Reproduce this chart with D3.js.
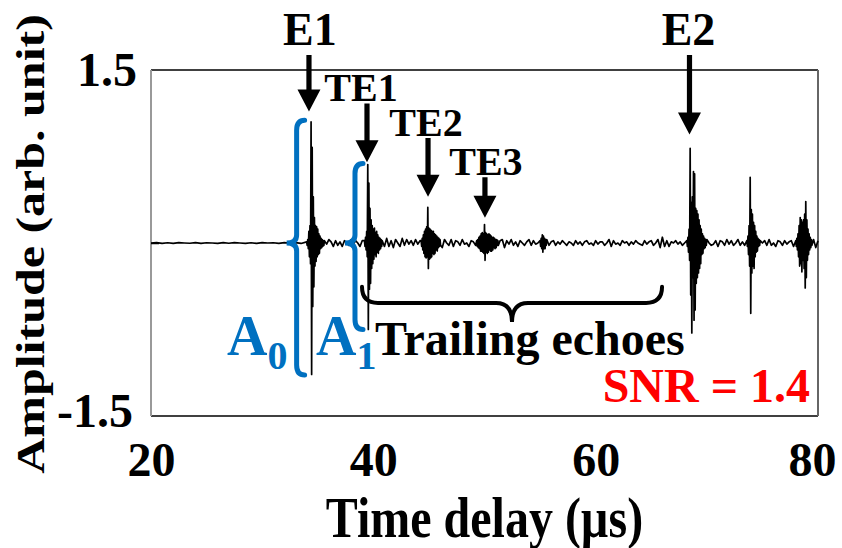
<!DOCTYPE html>
<html>
<head>
<meta charset="utf-8">
<script src="https://cdn.jsdelivr.net/npm/d3@7"></script>
<style>
  body { margin: 0; background: #fff; }
  svg text { font-family: "Liberation Serif", "Times New Roman", serif; font-weight: bold; }
</style>
</head>
<body>
<svg id="chart" width="842" height="548"></svg>
<script>
// axis ticks
const xTicks = [20, 40, 60, 80];
const yTicks = [1.5, -1.5];

// flat trace before the first echo (µs, step 0.5)
const quietStart = 20, quietStep = 0.5;
const quietVals = [0, 0.004, -0.003, 0.002, -0.004, 0.003, 0, -0.002, 0.004, -0.003,
  0.002, 0, -0.004, 0.003, -0.002, 0.004, 0, -0.003, 0.002, -0.004,
  0.003, 0, 0.002, -0.003, 0.004, -0.002, 0.003, -0.004, 0];

// noise floor after the first echo (µs, step 0.2)
const noiseStart = 35.6, noiseStep = 0.2;
const noiseVals = [
  0.02, -0.01, 0.03, 0.01, -0.03, 0.02, -0.02, 0.01, -0.03, 0.02,
  0.00, -0.02, 0.03, -0.01, 0.02, 0.00, -0.03, 0.02, -0.01, 0.01,
  0.03, -0.05, 0.04, -0.02, 0.05, -0.04, 0.02, -0.03, 0.04, -0.03,
  0.02, -0.04, 0.03, 0.00, -0.03, 0.04, -0.02, 0.03, -0.01, 0.02,
  -0.02, 0.03, -0.01, 0.02, -0.03, 0.01, 0.02, -0.02, 0.03, -0.02,
  0.04, -0.03, 0.02, -0.04, 0.03, 0.00, -0.02, 0.03, -0.03, 0.02,
  0.01, -0.02, 0.03, -0.01, 0.00, -0.03, 0.02, 0.01, -0.02, 0.02,
  -0.01, 0.03, -0.02, 0.02, -0.03, 0.04, -0.02, 0.03, -0.04, 0.02,
  0.03, -0.04, 0.02, -0.01, 0.03, -0.02, 0.01, -0.03, 0.02, 0.00,
  -0.02, 0.01, 0.03, -0.02, 0.02, -0.01, 0.00, -0.03, 0.02, -0.01,
  0.03, -0.02, 0.01, 0.02, -0.02, 0.01, -0.01, 0.02, 0.00, -0.02,
  0.01, 0.00, -0.02, 0.02, -0.01, 0.01, -0.02, 0.01, 0.02, -0.01,
  0.00, -0.02, 0.02, -0.01, 0.01, 0.01, -0.02, 0.00, 0.03, -0.03,
  0.02, -0.01, 0.00, -0.02, 0.02, 0.00, 0.01, -0.02, 0.01, -0.01,
  0.02, 0.00, -0.01, -0.02, 0.02, -0.01, 0.01, 0.02, -0.02, 0.00,
  0.03, -0.04, 0.05, -0.03, 0.02, -0.03, 0.01, 0.00, 0.02, -0.01,
  0.01, -0.02, 0.00, -0.01, 0.02, -0.02, 0.01, -0.02, 0.02, -0.01,
  0.02, -0.02, 0.03, 0.00, -0.02, -0.01, 0.02, -0.03, 0.02, 0.01,
  -0.02, 0.03, -0.01, 0.02, -0.02, 0.00, 0.03, -0.02, 0.01, -0.02,
  0.02, -0.01, 0.03, -0.02, 0.02, -0.03, 0.02, 0.00, 0.02, -0.02,
  0.03, -0.02, 0.00, -0.03, 0.02, 0.01, -0.02, 0.02, -0.01, 0.01,
  0.02, -0.03, 0.02, -0.01, 0.03, -0.02, 0.02, -0.03, 0.02, -0.01,
  0.03, -0.04, 0.02];

// echo bursts (µs start, step 0.05)
const burstStep = 0.05;
const e1Start = 34.0;
const e1Vals = [0.01, -0.02, 0.03, -0.05, 0.1, -0.12, 0.15, -0.18, 1.05, -1.14,
  0.83, -0.55, 0.4, -0.38, 0.22, -0.2, 0.15, -0.16, 0.14, -0.12,
  0.12, -0.1, 0.08, -0.09, 0.06, -0.05, 0.04, -0.04, 0.03, -0.03, 0.02, -0.02];
const te1Start = 39.2;
const te1Vals = [0.02, -0.03, 0.05, -0.06, 0.1, -0.12, 0.68, -0.75, 0.52, -0.4,
  0.3, -0.35, 0.2, -0.22, 0.15, -0.18, 0.12, -0.14, 0.13, -0.1,
  0.09, -0.12, 0.1, -0.08, 0.07, -0.09, 0.05, -0.06, 0.04, -0.05, 0.03, -0.03];
const te2Start = 44.3;
const te2Vals = [0.02, -0.03, 0.04, -0.06, 0.07, -0.09, 0.1, -0.12, 0.12, -0.13,
  0.14, -0.12, 0.31, -0.22, 0.13, -0.14, 0.12, -0.13, 0.11, -0.12,
  0.1, -0.09, 0.1, -0.1, 0.08, -0.09, 0.07, -0.06, 0.06, -0.07,
  0.05, -0.04, 0.04, -0.03, 0.03, -0.02];
const te3Start = 49.3;
const te3Vals = [0.02, -0.03, 0.03, -0.04, 0.05, -0.05, 0.06, -0.07, 0.08, -0.07,
  0.09, -0.08, 0.08, -0.09, 0.16, -0.15, 0.09, -0.08, 0.08, -0.09,
  0.07, -0.08, 0.08, -0.06, 0.07, -0.07, 0.06, -0.07, 0.05, -0.06,
  0.05, -0.04, 0.04, -0.05, 0.03, -0.04, 0.03, -0.02, 0.02, -0.02];
const te4Start = 55.0;
const te4Vals = [0.02, -0.03, 0.04, -0.05, 0.07, -0.08, 0.06, -0.05, 0.04, -0.05, 0.03, -0.02];
const e2Start = 68.2;
const e2Vals = [0.02, -0.03, 0.05, -0.08, 0.12, -0.15, 0.82, -0.45, 0.35, -0.78,
  0.4, -0.3, 0.62, -0.67, 0.6, -0.58, 0.3, -0.35, 0.28, -0.3,
  0.25, -0.26, 0.2, -0.22, 0.15, -0.18, 0.12, -0.1, 0.08, -0.09,
  0.06, -0.05, 0.04, -0.04, 0.03, -0.02];
const e3Start = 73.6;
const e3Vals = [0.02, -0.03, 0.06, -0.1, 0.15, -0.2, 0.57, -0.61, 0.29, -0.26,
  0.25, -0.2, 0.18, -0.22, 0.15, -0.12, 0.1, -0.08, 0.06, -0.07,
  0.04, -0.03, 0.03, -0.02];
const e4Start = 78.0;
const e4Vals = [0.02, -0.03, 0.04, -0.06, 0.08, -0.12, 0.15, -0.2, 0.22, -0.18,
  0.2, -0.25, 0.18, -0.15, 0.2, -0.22, 0.25, -0.39, 0.36, -0.3,
  0.2, -0.15, 0.12, -0.1, 0.08, -0.06, 0.05, -0.04, 0.03, -0.02];

// labelled echoes: arrow time, arrow tip / tail amplitude
const echoNames = ["E1", "TE1", "TE2", "TE3", "E2"];
const echoArrowT = [34.21, 39.43, 44.92, 50.04, 68.44];
const echoTipAmp = [1.14, 0.70, 0.40, 0.22, 0.94];
const echoTailAmp = [1.63, 1.21, 0.91, 0.57, 1.63];

const blue = "#0070c0";
const width = 842, height = 548;
const margin = {top: 70, right: 24, bottom: 132, left: 151};

const svg = d3.select("#chart");

const x = d3.scaleLinear().domain([20, 80]).range([margin.left, width - margin.right]);
const y = d3.scaleLinear().domain([-1.5, 1.5]).range([height - margin.bottom, margin.top]);

// build the trace
const bursts = [
  {start: e1Start, vals: e1Vals}, {start: te1Start, vals: te1Vals},
  {start: te2Start, vals: te2Vals}, {start: te3Start, vals: te3Vals},
  {start: te4Start, vals: te4Vals}, {start: e2Start, vals: e2Vals},
  {start: e3Start, vals: e3Vals}, {start: e4Start, vals: e4Vals}
];
const inBurst = t => bursts.some(b => t >= b.start - 1e-6 && t <= b.start + (b.vals.length - 1) * burstStep + 1e-6);
let trace = [];
quietVals.forEach((v, i) => trace.push({t: quietStart + i * quietStep, v}));
noiseVals.forEach((v, i) => trace.push({t: noiseStart + i * noiseStep, v}));
trace = trace.filter(p => !inBurst(p.t));
bursts.forEach(b => b.vals.forEach((v, i) => trace.push({t: b.start + i * burstStep, v})));
trace.sort((a, b) => a.t - b.t);

// frame
const x0 = x.range()[0], x1 = x.range()[1], yT = y.range()[1], yB = y.range()[0];
svg.append("line").attr("x1", x0).attr("x2", x1).attr("y1", yT).attr("y2", yT)
  .attr("stroke", "#000").attr("stroke-width", 1.5);
svg.append("line").attr("x1", x0).attr("x2", x1).attr("y1", yB).attr("y2", yB)
  .attr("stroke", "#000").attr("stroke-width", 1.5);
svg.append("line").attr("x1", x0).attr("x2", x0).attr("y1", yT).attr("y2", yB)
  .attr("stroke", "#999").attr("stroke-width", 2);
svg.append("line").attr("x1", x1).attr("x2", x1).attr("y1", yT).attr("y2", yB)
  .attr("stroke", "#666").attr("stroke-width", 2);

// axes
const xAxis = svg.append("g")
  .attr("transform", `translate(0,${yB})`)
  .call(d3.axisBottom(x).tickValues(xTicks).tickSize(0).tickFormat(d3.format("d")));
xAxis.select(".domain").remove();
xAxis.selectAll("text")
  .attr("y", 60).attr("dy", 0)
  .attr("font-size", 48).attr("fill", "#000")
  .attr("dx", d => d === 80 ? -6 : 0);

const yAxis = svg.append("g")
  .attr("transform", `translate(${x0},0)`)
  .call(d3.axisLeft(y).tickValues(yTicks).tickSize(0).tickPadding(14).tickFormat(d => d.toFixed(1)));
yAxis.select(".domain").remove();
yAxis.selectAll("text")
  .attr("font-size", 48).attr("fill", "#000")
  .attr("dy", d => d < 0 ? "0.22em" : "0.33em")
  .attr("dx", d => d < 0 ? -4 : 0);

// small zero tick on the left edge
const zeroAxis = svg.append("g")
  .attr("transform", `translate(${x0},0)`)
  .call(d3.axisRight(y).tickValues([0]).tickSize(8).tickFormat(""));
zeroAxis.select(".domain").remove();
zeroAxis.selectAll("line").attr("stroke", "#000").attr("stroke-width", 1.5);

// axis titles
svg.append("text")
  .attr("transform", `translate(${(x0 + x1) / 2},537) scale(1,1.2)`)
  .attr("text-anchor", "middle").attr("font-size", 48)
  .text("Time delay (µs)");
svg.append("text")
  .attr("transform", `translate(44,${(yT + yB) / 2 + 1}) rotate(-90) scale(1.25,1)`)
  .attr("text-anchor", "middle").attr("font-size", 40)
  .text("Amplitude (arb. unit)");

// the trace
svg.append("path")
  .datum(trace)
  .attr("fill", "none")
  .attr("stroke", "#000")
  .attr("stroke-width", 1.7)
  .attr("stroke-linejoin", "round")
  .attr("d", d3.line().x(d => x(d.t)).y(d => y(d.v)));

// arrows and echo labels
function arrowPath(ax, tail, tip) {
  const sw = 2.6, hw = 11.5, hl = 22;
  return `M${ax - sw},${tail}L${ax + sw},${tail}L${ax + sw},${tip - hl}L${ax + hw},${tip - hl}` +
         `L${ax},${tip}L${ax - hw},${tip - hl}L${ax - sw},${tip - hl}Z`;
}
const labelDx = [1, -6, -2, 1, -1];
const labelSize = [46, 40, 40, 40, 46];
echoNames.forEach((name, i) => {
  const ax = x(echoArrowT[i]);
  const tail = y(echoTailAmp[i]), tip = y(echoTipAmp[i]);
  svg.append("path").attr("d", arrowPath(ax, tail, tip)).attr("fill", "#000");
  svg.append("text")
    .attr("x", ax + labelDx[i])
    .attr("y", tail - (i === 0 || i === 4 ? 10 : 2))
    .attr("text-anchor", "middle")
    .attr("font-size", labelSize[i])
    .text(name);
});

// blue braces for A0, A1
function vBrace(bx, yTop, yBot, yMid) {
  const hook = 8, depth = 10;
  return `M${bx + hook},${yTop} Q${bx},${yTop} ${bx},${yTop + hook + 2} L${bx},${yMid - 8} ` +
         `Q${bx},${yMid} ${bx - depth},${yMid} Q${bx},${yMid} ${bx},${yMid + 8} ` +
         `L${bx},${yBot - hook - 2} Q${bx},${yBot} ${bx + hook},${yBot}`;
}
svg.append("path")
  .attr("d", vBrace(x(33.1), y(1.065), y(-1.145), y(0)))
  .attr("fill", "none").attr("stroke", blue).attr("stroke-width", 5).attr("stroke-linecap", "round");
svg.append("path")
  .attr("d", vBrace(x(38.35), y(0.69), y(-0.75), y(0)))
  .attr("fill", "none").attr("stroke", blue).attr("stroke-width", 5).attr("stroke-linecap", "round");

function subLabel(lx, sub) {
  const t = svg.append("text").attr("x", lx).attr("y", 355).attr("fill", blue).attr("font-size", 56);
  t.append("tspan").text("A");
  t.append("tspan").attr("font-size", 40).attr("dy", 14).text(sub);
}
subLabel(227, "0");
subLabel(316, "1");

// trailing echoes brace
function hBrace(bx0, bx1, yTop, yLine, cusp) {
  const xm = (bx0 + bx1) / 2, r = 16;
  return `M${bx0},${yTop} Q${bx0},${yLine} ${bx0 + r},${yLine} L${xm - r},${yLine} ` +
         `Q${xm},${yLine} ${xm},${yLine + cusp} Q${xm},${yLine} ${xm + r},${yLine} ` +
         `L${bx1 - r},${yLine} Q${bx1},${yLine} ${bx1},${yTop}`;
}
svg.append("path")
  .attr("d", hBrace(x(38.98), x(65.97), y(-0.38), y(-0.52), 19))
  .attr("fill", "none").attr("stroke", "#000").attr("stroke-width", 4).attr("stroke-linecap", "round");

svg.append("text").attr("x", 375).attr("y", 355).attr("font-size", 48).text("Trailing echoes");
svg.append("text").attr("x", 810).attr("y", 402).attr("text-anchor", "end")
  .attr("font-size", 48).attr("fill", "#ff0000").text("SNR = 1.4");
</script>
</body>
</html>
